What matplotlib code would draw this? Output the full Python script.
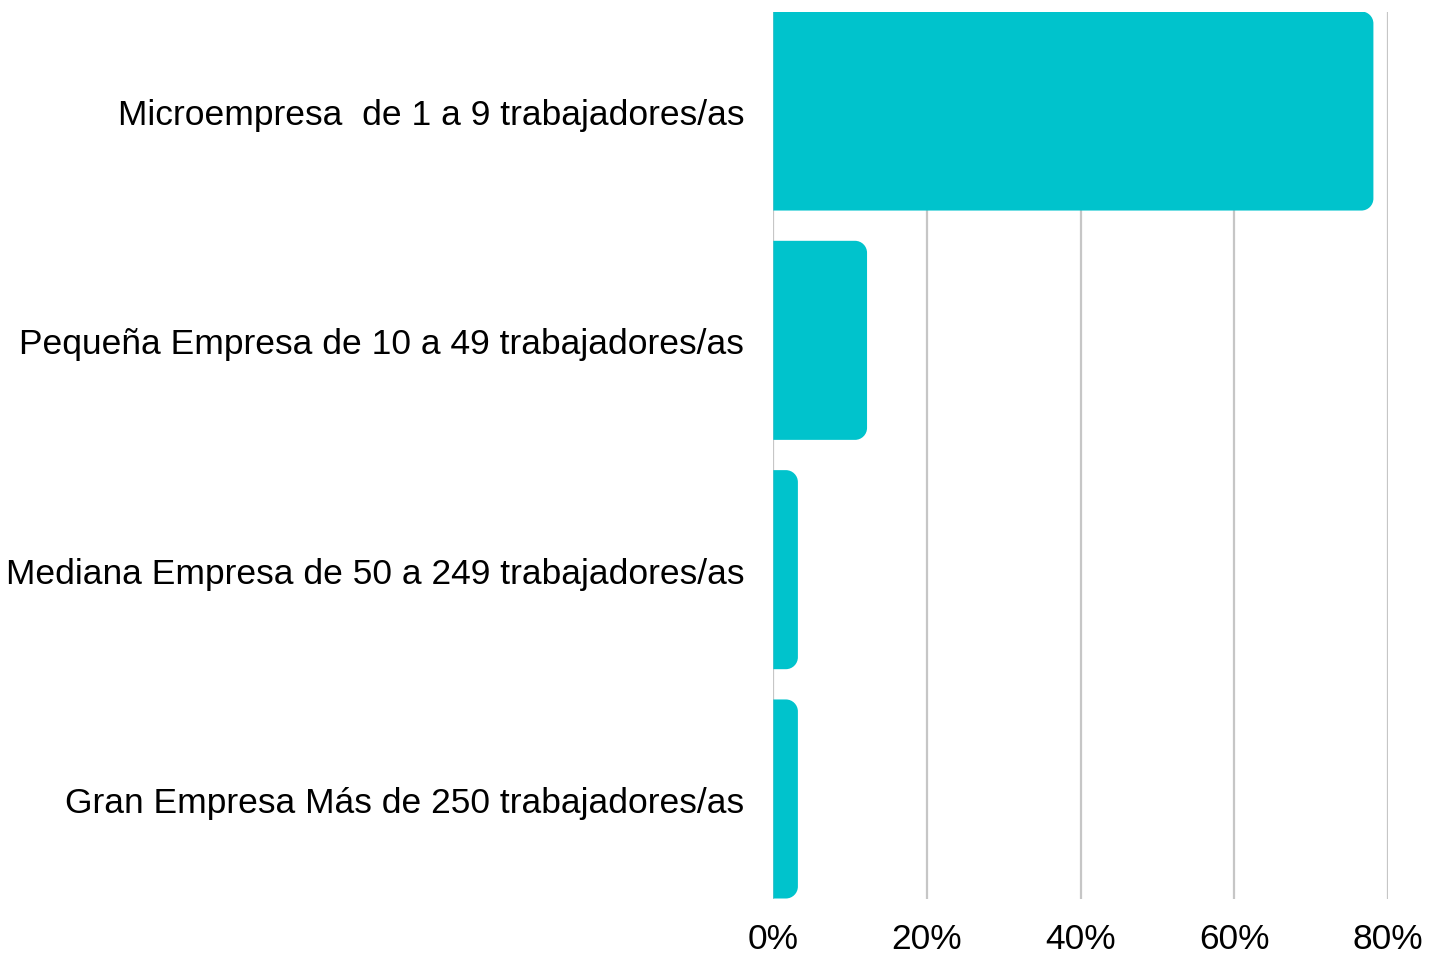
import matplotlib
matplotlib.use("Agg")
import matplotlib.pyplot as plt
from matplotlib.path import Path
from matplotlib.patches import PathPatch
from matplotlib.ticker import FuncFormatter

categories = [
    "Microempresa  de 1 a 9 trabajadores/as",
    "Pequeña Empresa de 10 a 49 trabajadores/as",
    "Mediana Empresa de 50 a 249 trabajadores/as",
    "Gran Empresa Más de 250 trabajadores/as",
]
values = [78.1, 12.2, 3.2, 3.2]
xticks = [0, 20, 40, 60, 80]

plt.rcParams['font.family'] = ['Liberation Sans', 'DejaVu Sans']

W, H, DPI = 1437, 954, 100
fig = plt.figure(figsize=(W / DPI, H / DPI), dpi=DPI)
left, right, top, bottom = 773.3, 1388, 12.5, 899.5
ax = fig.add_axes([left / W, 1 - bottom / H, (right - left) / W, (bottom - top) / H])

bar_h = 0.868
ax.set_xlim(0, 80)
ax.set_ylim(len(categories) - 1 + bar_h / 2, -bar_h / 2)

color = "#00C3CC"
px_per_x = (right - left) / 80
px_per_y = (bottom - top) / (len(categories) - 1 + bar_h)
r_px = 12
rx = r_px / px_per_x
ry = r_px / px_per_y
k = 0.5523

for i, v in enumerate(values):
    y0, y1 = i - bar_h / 2, i + bar_h / 2
    rxx = min(rx, v)
    verts = [
        (0, y0), (v - rxx, y0),
        (v - rxx + k * rxx, y0), (v, y0 + ry - k * ry), (v, y0 + ry),
        (v, y1 - ry),
        (v, y1 - ry + k * ry), (v - rxx + k * rxx, y1), (v - rxx, y1),
        (0, y1), (0, y0),
    ]
    codes = [Path.MOVETO, Path.LINETO,
             Path.CURVE4, Path.CURVE4, Path.CURVE4,
             Path.LINETO,
             Path.CURVE4, Path.CURVE4, Path.CURVE4,
             Path.LINETO, Path.CLOSEPOLY]
    ax.add_patch(PathPatch(Path(verts, codes), facecolor=color, edgecolor='none', zorder=3))

ax.set_xticks(xticks)
ax.xaxis.set_major_formatter(FuncFormatter(lambda x, p: f"{int(x)}%"))
ax.set_yticks(range(len(categories)))
ax.set_yticklabels(categories)
ax.tick_params(axis='both', length=0, labelsize=25.5, colors='black')
ax.tick_params(axis='y', pad=21)
ax.tick_params(axis='x', pad=17)
for s in ax.spines.values():
    s.set_visible(False)
ax.grid(axis='x', color='#C6C6C6', linewidth=1.6, zorder=0)
ax.set_axisbelow(True)

fig.savefig("out.png", dpi=DPI)
